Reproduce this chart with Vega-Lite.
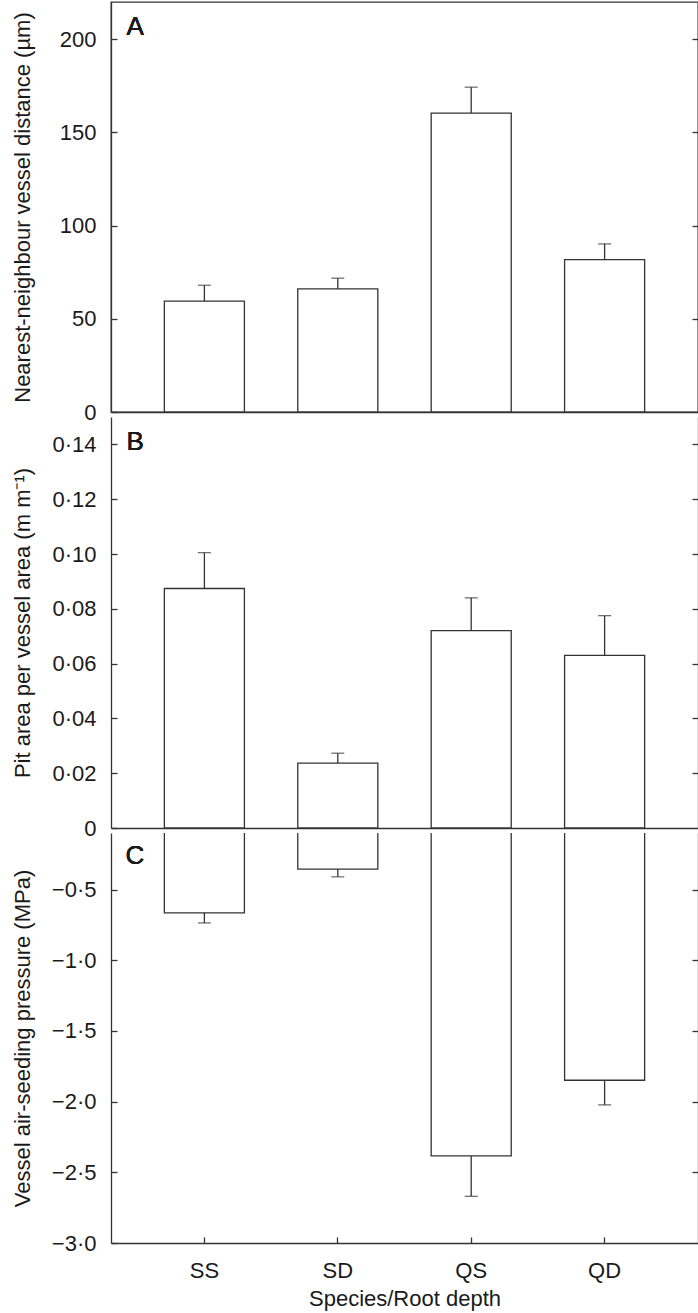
{
  "$schema": "https://vega.github.io/schema/vega-lite/v6.json",
  "background": "white",
  "padding": {"left": 10, "top": 1, "right": 1, "bottom": 2},
  "bounds": "flush",
  "spacing": 5,
  "config": {
    "font": "Liberation Sans",
    "view": {"stroke": null},
    "axis": {
      "labelFont": "Liberation Sans",
      "titleFont": "Liberation Sans",
      "labelFontSize": 22,
      "titleFontSize": 22,
      "titleFontWeight": "normal",
      "labelColor": "#1a1a1a",
      "titleColor": "#1a1a1a",
      "domainColor": "#333333",
      "tickColor": "#333333",
      "domainWidth": 1.3,
      "tickWidth": 1.3,
      "tickSize": -6,
      "grid": false
    }
  },
  "datasets": {
    "a": [
      {"cat": "SS", "mean": 59.5, "err": 68.0},
      {"cat": "SD", "mean": 66.1, "err": 71.8},
      {"cat": "QS", "mean": 160.4, "err": 174.3},
      {"cat": "QD", "mean": 81.8, "err": 90.2}
    ],
    "b": [
      {"cat": "SS", "mean": 0.0874, "err": 0.1005},
      {"cat": "SD", "mean": 0.0237, "err": 0.0273},
      {"cat": "QS", "mean": 0.0720, "err": 0.0840},
      {"cat": "QD", "mean": 0.0630, "err": 0.0775}
    ],
    "c": [
      {"cat": "SS", "mean": -0.665, "err": -0.736},
      {"cat": "SD", "mean": -0.356, "err": -0.41},
      {"cat": "QS", "mean": -2.384, "err": -2.67},
      {"cat": "QD", "mean": -1.849, "err": -2.023}
    ]
  },
  "vconcat": [
    {
      "width": 587,
      "height": 410,
      "view": {"stroke": "#333333", "strokeWidth": 1.3},
      "data": {"name": "a"},
      "resolve": {"axis": {"y": "independent"}},
      "layer": [
        {
          "mark": {"type": "bar", "fill": "white", "stroke": "#333333", "strokeWidth": 1.3},
          "encoding": {
            "x": {"field": "cat", "type": "nominal", "sort": ["SS", "SD", "QS", "QD"], "scale": {"paddingInner": 0.4, "paddingOuter": 0.4}, "axis": {"labels": false, "title": null}},
            "y": {"field": "mean", "type": "quantitative", "scale": {"domain": [0, 220]}, "axis": {"title": "Nearest-neighbour vessel distance (µm)", "values": [0, 50, 100, 150, 200], "labelPadding": 21, "titleX": -82, "titleBaseline": "alphabetic", "titleAngle": -90}},
            "y2": {"datum": 0}
          }
        },
        {
          "mark": {"type": "rule", "color": "#333333", "strokeWidth": 1.3},
          "encoding": {
            "x": {"field": "cat", "type": "nominal", "sort": ["SS", "SD", "QS", "QD"], "scale": {"paddingInner": 0.4, "paddingOuter": 0.4}, "axis": {"labels": false, "title": null}},
            "y": {"field": "mean", "type": "quantitative", "scale": {"domain": [0, 220]}, "axis": null},
            "y2": {"field": "err"}
          }
        },
        {
          "mark": {"type": "tick", "color": "#333333", "size": 13, "thickness": 1.3},
          "encoding": {
            "x": {"field": "cat", "type": "nominal", "sort": ["SS", "SD", "QS", "QD"], "scale": {"paddingInner": 0.4, "paddingOuter": 0.4}, "axis": {"labels": false, "title": null}},
            "y": {"field": "err", "type": "quantitative", "scale": {"domain": [0, 220]}, "axis": {"orient": "right", "labels": false, "title": null, "values": [50, 100, 150, 200]}}
          }
        },
        {
          "mark": {"type": "text", "text": "A", "align": "left", "baseline": "alphabetic", "dx": -78, "fontSize": 26, "font": "Liberation Sans", "color": "#1a1a1a"},
          "encoding": {
            "x": {"datum": "SS", "type": "nominal", "sort": ["SS", "SD", "QS", "QD"], "scale": {"paddingInner": 0.4, "paddingOuter": 0.4}, "axis": {"labels": false, "title": null}},
            "y": {"datum": 202.5, "type": "quantitative", "scale": {"domain": [0, 220]}, "axis": null}
          }
        }
      ]
    },
    {
      "width": 587,
      "height": 411,
      "data": {"name": "b"},
      "resolve": {"axis": {"y": "independent"}},
      "layer": [
        {
          "mark": {"type": "bar", "fill": "white", "stroke": "#333333", "strokeWidth": 1.3},
          "encoding": {
            "x": {"field": "cat", "type": "nominal", "sort": ["SS", "SD", "QS", "QD"], "scale": {"paddingInner": 0.4, "paddingOuter": 0.4}, "axis": {"labels": false, "title": null}},
            "y": {"field": "mean", "type": "quantitative", "scale": {"domain": [0, 0.15]}, "axis": {"title": "Pit area per vessel area (m m⁻¹)", "values": [0, 0.02, 0.04, 0.06, 0.08, 0.1, 0.12, 0.14], "labelExpr": "datum.value == 0 ? '0' : replace(format(datum.value, '.2f'), '.', '·')", "labelPadding": 21, "titleX": -82, "titleBaseline": "alphabetic", "titleAngle": -90}},
            "y2": {"datum": 0}
          }
        },
        {
          "mark": {"type": "rule", "color": "#333333", "strokeWidth": 1.3},
          "encoding": {
            "x": {"field": "cat", "type": "nominal", "sort": ["SS", "SD", "QS", "QD"], "scale": {"paddingInner": 0.4, "paddingOuter": 0.4}, "axis": {"labels": false, "title": null}},
            "y": {"field": "mean", "type": "quantitative", "scale": {"domain": [0, 0.15]}, "axis": null},
            "y2": {"field": "err"}
          }
        },
        {
          "mark": {"type": "tick", "color": "#333333", "size": 13, "thickness": 1.3},
          "encoding": {
            "x": {"field": "cat", "type": "nominal", "sort": ["SS", "SD", "QS", "QD"], "scale": {"paddingInner": 0.4, "paddingOuter": 0.4}, "axis": {"labels": false, "title": null}},
            "y": {"field": "err", "type": "quantitative", "scale": {"domain": [0, 0.15]}, "axis": {"orient": "right", "labels": false, "title": null, "values": [0.02, 0.04, 0.06, 0.08, 0.1, 0.12, 0.14]}}
          }
        },
        {
          "mark": {"type": "text", "text": "B", "align": "left", "baseline": "alphabetic", "dx": -78, "fontSize": 26, "font": "Liberation Sans", "color": "#1a1a1a"},
          "encoding": {
            "x": {"datum": "SS", "type": "nominal", "sort": ["SS", "SD", "QS", "QD"], "scale": {"paddingInner": 0.4, "paddingOuter": 0.4}, "axis": {"labels": false, "title": null}},
            "y": {"datum": 0.1378, "type": "quantitative", "scale": {"domain": [0, 0.15]}, "axis": null}
          }
        }
      ]
    },
    {
      "width": 587,
      "height": 410,
      "data": {"name": "c"},
      "resolve": {"axis": {"y": "independent"}},
      "layer": [
        {
          "mark": {"type": "bar", "fill": "white", "stroke": "#333333", "strokeWidth": 1.3, "clip": true},
          "encoding": {
            "x": {"field": "cat", "type": "nominal", "sort": ["SS", "SD", "QS", "QD"], "scale": {"paddingInner": 0.4, "paddingOuter": 0.4}, "axis": {"title": "Species/Root depth", "labelAngle": 0, "labelPadding": 23, "titlePadding": 7}},
            "y": {"field": "mean", "type": "quantitative", "scale": {"domain": [-3, -0.1]}, "axis": {"title": "Vessel air-seeding pressure (MPa)", "values": [-0.5, -1, -1.5, -2, -2.5, -3], "labelExpr": "replace(format(datum.value, '.1f'), '.', '·')", "labelPadding": 21, "titleX": -82, "titleBaseline": "alphabetic", "titleAngle": -90}},
            "y2": {"datum": 0}
          }
        },
        {
          "mark": {"type": "rule", "color": "#333333", "strokeWidth": 1.3},
          "encoding": {
            "x": {"field": "cat", "type": "nominal", "sort": ["SS", "SD", "QS", "QD"], "scale": {"paddingInner": 0.4, "paddingOuter": 0.4}, "axis": {"title": "Species/Root depth", "labelAngle": 0, "labelPadding": 23, "titlePadding": 7}},
            "y": {"field": "mean", "type": "quantitative", "scale": {"domain": [-3, -0.1]}, "axis": null},
            "y2": {"field": "err"}
          }
        },
        {
          "mark": {"type": "tick", "color": "#333333", "size": 13, "thickness": 1.3},
          "encoding": {
            "x": {"field": "cat", "type": "nominal", "sort": ["SS", "SD", "QS", "QD"], "scale": {"paddingInner": 0.4, "paddingOuter": 0.4}, "axis": {"title": "Species/Root depth", "labelAngle": 0, "labelPadding": 23, "titlePadding": 7}},
            "y": {"field": "err", "type": "quantitative", "scale": {"domain": [-3, -0.1]}, "axis": {"orient": "right", "labels": false, "title": null, "values": [-0.5, -1, -1.5, -2, -2.5]}}
          }
        },
        {
          "mark": {"type": "text", "text": "C", "align": "left", "baseline": "alphabetic", "dx": -79, "fontSize": 26, "font": "Liberation Sans", "color": "#1a1a1a"},
          "encoding": {
            "x": {"datum": "SS", "type": "nominal", "sort": ["SS", "SD", "QS", "QD"], "scale": {"paddingInner": 0.4, "paddingOuter": 0.4}, "axis": {"title": "Species/Root depth", "labelAngle": 0, "labelPadding": 23, "titlePadding": 7}},
            "y": {"datum": -0.321, "type": "quantitative", "scale": {"domain": [-3, -0.1]}, "axis": null}
          }
        }
      ]
    }
  ]
}
